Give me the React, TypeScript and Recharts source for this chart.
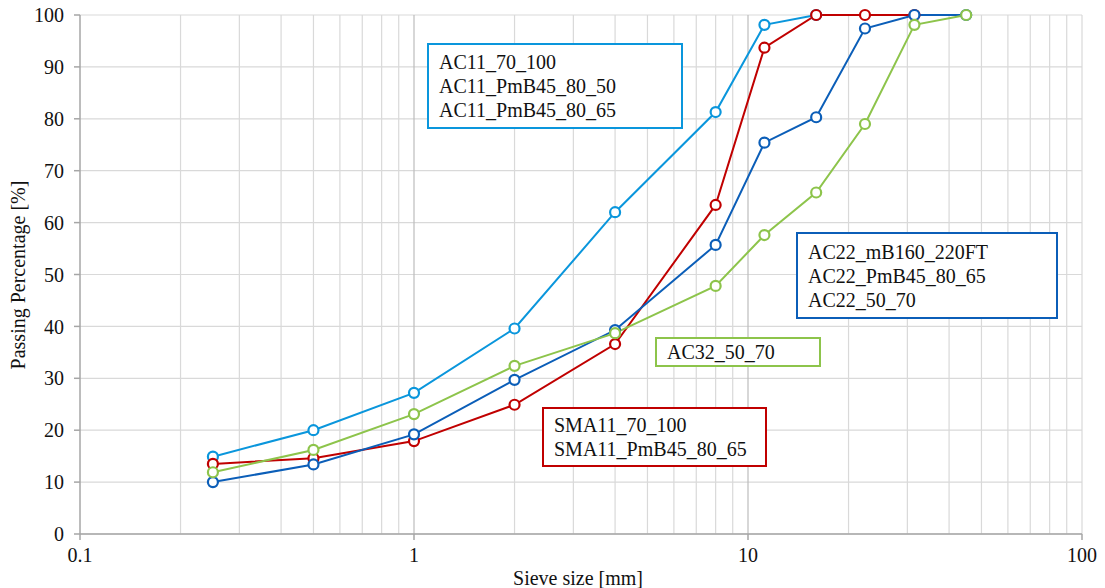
import { CartesianGrid, Line, LineChart, ReferenceLine, XAxis, YAxis } from "recharts";

const sieveSizes = [0.25, 0.5, 1, 2, 4, 8, 11.2, 16, 22.4, 31.5, 45];
const ac11 = [14.9, 20.0, 27.2, 39.6, 62.0, 81.3, 98.1, 100];
const sma11 = [13.5, 14.6, 17.9, 24.9, 36.6, 63.4, 93.7, 100, 100, 100];
const ac22 = [10.0, 13.4, 19.2, 29.7, 39.3, 55.7, 75.4, 80.3, 97.4, 100, 100];
const ac32 = [11.9, 16.2, 23.1, 32.4, 38.7, 47.8, 57.6, 65.8, 79.0, 98.1, 100];

const xTicks = [0.1, 1, 10, 100];
const yTicks = [0, 10, 20, 30, 40, 50, 60, 70, 80, 90, 100];
const minorX = [0.2, 0.3, 0.4, 0.5, 0.6, 0.7, 0.8, 0.9, 2, 3, 4, 5, 6, 7, 8, 9, 20, 30, 40, 50, 60, 70, 80, 90, 100];
const majorX = [1, 10];

const data = sieveSizes.map((size, i) => ({
  size,
  ac11: ac11[i],
  sma11: sma11[i],
  ac22: ac22[i],
  ac32: ac32[i],
}));

const COLORS = {
  ac11: "#0A96DC",
  sma11: "#C00000",
  ac22: "#0B5EB8",
  ac32: "#8DC44B",
};

const font = "Liberation Serif, DejaVu Serif, Times New Roman, serif";
const tickStyle = { fontFamily: font, fontSize: 20, fill: "#111" };

function NoteBox(props: { left: number; top: number; width: number; height: number; color: string; lines: string[] }) {
  return (
    <div
      style={{
        position: "absolute",
        left: props.left,
        top: props.top,
        width: props.width,
        height: props.height,
        boxSizing: "border-box",
        border: `2px solid ${props.color}`,
        background: "#fff",
        display: "flex",
        flexDirection: "column",
        justifyContent: "center",
        paddingLeft: 10,
        fontFamily: font,
        fontSize: 20,
        lineHeight: "24px",
        color: "#111",
      }}
    >
      {props.lines.map((l) => (
        <div key={l}>{l}</div>
      ))}
    </div>
  );
}

export default function App() {
  const dot = (c: string) => ({ r: 5, stroke: c, strokeWidth: 2.2, fill: "#fff" });

  return (
    <div style={{ position: "relative", width: 1105, height: 588, background: "#fff", fontFamily: font }}>
      <style>{"body{margin:0}"}</style>
      <LineChart width={1105} height={588} data={data} margin={{ top: 15, right: 23, bottom: 14, left: 20 }}>
        <CartesianGrid vertical={false} stroke="#D9D9D9" strokeWidth={1.2} />
        {minorX.map((v) => (
          <ReferenceLine key={v} x={v} stroke="#D9D9D9" strokeWidth={1.2} />
        ))}
        {majorX.map((v) => (
          <ReferenceLine key={v} x={v} stroke="#BDBDBD" strokeWidth={1.2} />
        ))}
        <XAxis
          dataKey="size"
          type="number"
          scale="log"
          domain={[0.1, 100]}
          ticks={xTicks}
          allowDataOverflow
          height={40}
          tick={tickStyle}
          tickSize={6}
          tickMargin={8}
          stroke="#A6A6A6"
          strokeWidth={1.5}
          tickFormatter={(v) => String(v)}
        />
        <YAxis
          type="number"
          domain={[0, 100]}
          ticks={yTicks}
          width={60}
          tick={tickStyle}
          tickSize={6}
          tickMargin={10}
          stroke="#A6A6A6"
          strokeWidth={1.5}
        />
        <Line type="linear" dataKey="ac11" stroke={COLORS.ac11} strokeWidth={2} dot={dot(COLORS.ac11)} isAnimationActive={false} />
        <Line type="linear" dataKey="sma11" stroke={COLORS.sma11} strokeWidth={2} dot={dot(COLORS.sma11)} isAnimationActive={false} />
        <Line type="linear" dataKey="ac22" stroke={COLORS.ac22} strokeWidth={2} dot={dot(COLORS.ac22)} isAnimationActive={false} />
        <Line type="linear" dataKey="ac32" stroke={COLORS.ac32} strokeWidth={2} dot={dot(COLORS.ac32)} isAnimationActive={false} />
      </LineChart>

      <NoteBox left={427} top={43} width={256} height={86} color={COLORS.ac11} lines={["AC11_70_100", "AC11_PmB45_80_50", "AC11_PmB45_80_65"]} />
      <NoteBox left={796} top={232} width={262} height={87} color={COLORS.ac22} lines={["AC22_mB160_220FT", "AC22_PmB45_80_65", "AC22_50_70"]} />
      <NoteBox left={655} top={337} width={166} height={30} color={COLORS.ac32} lines={["AC32_50_70"]} />
      <NoteBox left={542} top={407} width={225} height={60} color={COLORS.sma11} lines={["SMA11_70_100", "SMA11_PmB45_80_65"]} />

      <div
        style={{
          position: "absolute",
          left: 578,
          top: 578,
          transform: "translate(-50%, -50%)",
          fontFamily: font,
          fontSize: 20,
          color: "#111",
          whiteSpace: "nowrap",
        }}
      >
        Sieve size [mm]
      </div>
      <div
        style={{
          position: "absolute",
          left: 18,
          top: 275,
          transform: "translate(-50%, -50%) rotate(-90deg)",
          fontFamily: font,
          fontSize: 20,
          color: "#111",
          whiteSpace: "nowrap",
        }}
      >
        Passing Percentage [%]
      </div>
    </div>
  );
}
